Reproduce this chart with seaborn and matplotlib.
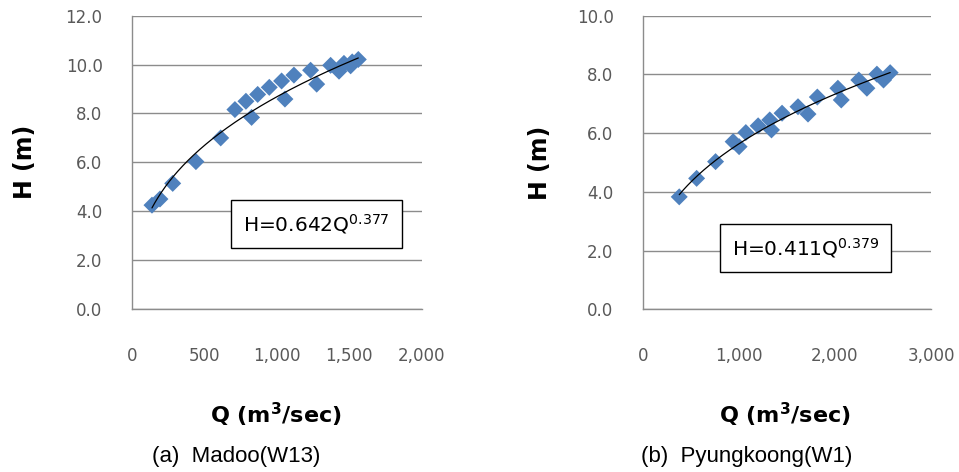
import numpy as np
import pandas as pd
import matplotlib
matplotlib.use("Agg")
import matplotlib.pyplot as plt
import seaborn as sns

# Madoo (W13)
q_a = [140, 195, 283, 443, 614, 712, 788, 827, 869, 949, 1034, 1057, 1119, 1234, 1276, 1372, 1430, 1464, 1510, 1521, 1563]
h_a = [4.25, 4.5, 5.14, 6.03, 7.0, 8.16, 8.5, 7.84, 8.78, 9.07, 9.33, 8.59, 9.57, 9.77, 9.2, 9.97, 9.73, 10.05, 9.95, 10.11, 10.21]
# Pyungkoong (W1)
q_b = [380, 561, 758, 941, 1003, 1073, 1201, 1322, 1340, 1450, 1616, 1720, 1817, 2031, 2066, 2249, 2333, 2437, 2506, 2575]
h_b = [3.83, 4.46, 5.03, 5.71, 5.54, 6.02, 6.25, 6.45, 6.11, 6.68, 6.9, 6.65, 7.23, 7.53, 7.13, 7.81, 7.53, 8.01, 7.81, 8.06]

# fitted rating curves H = a * Q^b
coef_a = (0.642, 0.377)
coef_b = (0.411, 0.379)
eq_a = r"H=0.642Q$^{0.377}$"
eq_b = r"H=0.411Q$^{0.379}$"
cap_a = "(a)  Madoo(W13)"
cap_b = "(b)  Pyungkoong(W1)"

sns.set_theme(style="white")
plt.rcParams['font.family'] = ['DejaVu Sans']

fig = plt.figure(figsize=(9.59, 4.72), dpi=100)
ax1 = fig.add_axes([0.1373, 0.3453, 0.3024, 0.6214])
ax2 = fig.add_axes([0.6702, 0.3447, 0.3006, 0.6220])

blue = "#4F81BD"
grid_c = "#8C8C8C"
tick_c = "#595959"

def panel(ax, q, h, coef, eq, xmax, xstep, ymax, box_xy, cap, cap_x, ylab_x, xlab_x):
    df = pd.DataFrame({"Q": q, "H": h})
    qq = np.linspace(min(q), max(q), 200)
    fit = pd.DataFrame({"Q": qq, "H": coef[0] * qq ** coef[1]})
    sns.scatterplot(data=df, x="Q", y="H", ax=ax, marker="D", s=75,
                    color=blue, edgecolor="none", zorder=3)
    sns.lineplot(data=fit, x="Q", y="H", ax=ax, color="black", lw=0.9, zorder=4)
    ax.set_xlim(0, xmax)
    ax.set_ylim(0, ymax)
    ax.set_xticks(np.arange(0, xmax + 1, xstep))
    ax.set_xticklabels([f"{int(v):,}" for v in np.arange(0, xmax + 1, xstep)])
    ax.set_yticks(np.arange(0, ymax + 0.01, 2))
    ax.set_yticklabels([f"{v:.1f}" for v in np.arange(0, ymax + 0.01, 2)])
    ax.grid(axis="y", color=grid_c, lw=1)
    ax.set_axisbelow(True)
    for s in ["top", "right"]:
        ax.spines[s].set_visible(False)
    for s in ["left", "bottom"]:
        ax.spines[s].set_color(grid_c)
        ax.spines[s].set_linewidth(1)
    ax.tick_params(axis="both", which="major", direction="out", length=6,
                   width=1, color=grid_c, labelcolor=tick_c, labelsize=12)
    ax.tick_params(axis="y", pad=15)
    ax.tick_params(axis="x", pad=21)
    ax.set_xlabel(r"Q (m$^{\mathbf{3}}$/sec)", fontsize=16, fontweight="bold", color="black")
    ax.set_ylabel("H (m)", fontsize=17, fontweight="bold", color="black")
    ax.xaxis.set_label_coords(xlab_x, -0.361)
    ax.yaxis.set_label_coords(ylab_x, 0.5)
    ax.xaxis.label.set_va("center")
    ax.yaxis.label.set_va("center")
    ax.text(box_xy[0], box_xy[1], eq, transform=ax.transAxes, ha="center", va="center",
            fontsize=14.5, color="black",
            bbox=dict(boxstyle="square,pad=0.6", fc="white", ec="black", lw=1), zorder=5)
    fig.text(cap_x, 0.032, cap, ha="center", va="center", fontsize=16, color="black",
             family=["Liberation Sans", "DejaVu Sans"])

panel(ax1, q_a, h_a, coef_a, eq_a, 2000, 500, 12.0, (0.637, 0.291), cap_a, 0.2466, -0.368, 0.498)
panel(ax2, q_b, h_b, coef_b, eq_b, 3000, 1000, 10.0, (0.564, 0.208), cap_b, 0.7786, -0.356, 0.494)

fig.savefig("out.png", dpi=100)
